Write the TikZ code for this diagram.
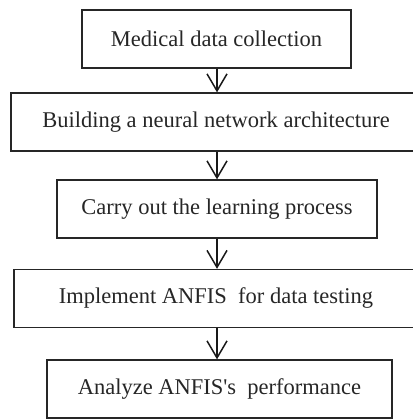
\documentclass[tikz,border=0pt]{standalone}
\usepackage{fontspec}
\setmainfont{Liberation Serif}
\usepackage{textcomp}
\usetikzlibrary{arrows.meta}
\begin{document}
\begin{tikzpicture}[x=1pt,y=-1pt,
  stagebox/.style={draw=black!85, line width=1.3pt, inner sep=0pt, minimum height=58pt,
    font=\fontsize{22.5}{26}\selectfont, text=black!85},
  flowarrow/.style={line width=1.5pt, draw=black!90, -{Straight Barb[length=17pt,width=20pt,line width=1.5pt]}}]
\useasboundingbox (0,0) rectangle (412,419);

% Stages of the method
\node[stagebox, minimum width=269pt] (collect) at (216.5,39) {Medical data collection};
\node[stagebox, minimum width=410pt] (build) at (216,122) {Building a neural network architecture};
\node[stagebox, minimum width=320pt] (learn) at (217,209) {Carry out the learning process};
\node[stagebox, minimum width=404pt] (anfis) at (216,298.5) {Implement ANFIS\ \ for data testing};
\node[stagebox, minimum width=345pt] (analyze) at (219.5,389) {Analyze ANFIS\textquotesingle s\ \ performance};

% Arrows between stages
\draw[flowarrow] (collect.south -| 217,0) -- (build.north -| 217,0);
\draw[flowarrow] (build.south -| 217,0) -- (learn.north -| 217,0);
\draw[flowarrow] (learn.south -| 217,0) -- (anfis.north -| 217,0);
\draw[flowarrow] (anfis.south -| 217,0) -- (analyze.north -| 217,0);

\end{tikzpicture}
\end{document}
